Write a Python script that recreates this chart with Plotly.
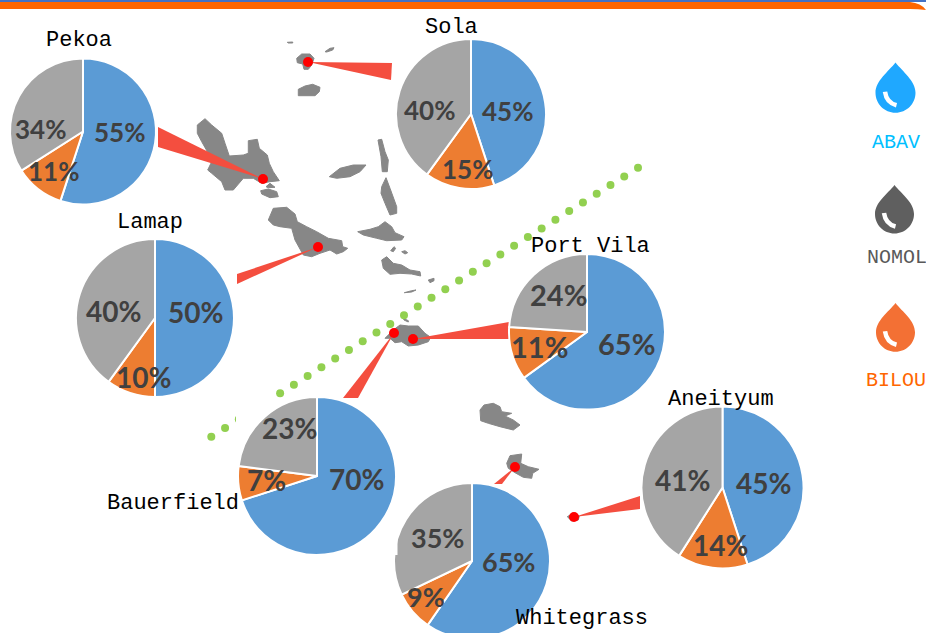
import numpy as np
import plotly.graph_objects as go

# ---------- data ----------
sites = ["Pekoa", "Sola", "Lamap", "Port Vila", "Bauerfield", "Whitegrass", "Aneityum"]
series = ["ABAV", "BILOU", "NOMOL"]
abav = [55, 45, 50, 65, 70, 65, 45]
bilou = [11, 15, 10, 11, 7, 9, 14]
nomol = [34, 40, 40, 24, 23, 35, 41]

# ---------- layout helpers (pixels on the 926-wide page) ----------
W, H_PAGE, H = 926, 633, 660
pie_box = [(83, 131.5, 73), (471, 114, 75), (155, 318, 79), (587, 332, 78),
           (317, 476, 79), (472, 561, 78), (722.5, 487.5, 81)]
pct_pos = [[(119, 132), (53, 171), (40, 129)], [(507, 111), (467, 169), (429, 110)],
           [(195, 312), (143, 377), (113, 311)], [(626, 343), (539, 346), (558, 294)],
           [(356, 479), (266, 480), (289, 428)], [(508, 561), (426, 596), (437, 537)],
           [(763, 483), (720, 545), (682, 480)]]
pct_size = [26, 26, 28, 29, 28, 27, 28]
name_pos = [(79, 40), (451, 27), (150, 222), (590, 246), (173, 503), (582, 618), (721, 399)]
# red dot (tip of leader) and the two base corners of the leader wedge
leaders = [((263, 179), (158, 127), (158, 147)), ((308, 62), (392, 63), (391, 80)),
           ((318, 247), (237, 274), (237, 284)), ((413, 339), (509, 322), (509, 339)),
           ((394, 333), (343, 398), (358, 398)), ((515, 467), (494, 484), (502, 484)),
           ((574, 517), (640, 496), (640, 509))]

COLORS = ["#5B9BD5", "#ED7D31", "#A5A5A5"]
ISLAND = "#878787"
RED = "#FF0000"
WEDGE = "#F44E3F"

Z1 = (180, 30)
Z2 = (340, 290)
islands = [
    (Z1, [(350,85),(365,72),(390,72),(402,85),(395,105),(385,118),(372,118),(368,102),(352,98)]),
    (Z1, [(435,65),(450,55),(462,53),(458,60),(440,66)]),
    (Z1, [(322,37),(338,36),(338,39),(325,39)]),
    (Z1, [(355,178),(375,168),(398,163),(420,172),(418,185),(405,197),(375,197),(355,197)]),
    (Z1, [(52,285),(75,266),(95,285),(125,310),(135,340),(148,378),(190,375),(205,370),(205,332),(232,328),
          (238,355),(262,375),(268,400),(280,425),(298,452),(270,455),(245,460),(220,445),(190,445),(160,480),
          (135,480),(125,455),(95,430),(83,420),(95,395),(85,370),(65,335),(52,310)]),
    (Z1, [(242,482),(265,477),(290,485),(295,500),(270,503),(245,492)]),
    (Z1, [(258,470),(270,460),(285,472),(265,473)]),
    (Z1, [(265,570),(280,535),(320,532),(345,552),(352,575),(380,590),(410,605),(445,625),(485,632),(488,650),
          (503,655),(490,665),(470,672),(450,660),(420,670),(395,680),(370,675),(345,630),(335,595),(300,590),(280,585)]),
    (Z1, [(448,440),(480,415),(520,405),(558,405),(540,425),(510,440),(470,445)]),
    (Z1, [(594,330),(605,328),(615,365),(625,390),(622,425),(607,425),(603,380)]),
    (Z1, [(618,443),(630,475),(650,530),(650,550),(630,555),(615,520),(603,490),(605,470)]),
    (Z1, [(533,605),(570,598),(595,590),(615,575),(635,590),(645,608),(672,620),(665,630),(620,632),(590,625),(550,615)]),
    (Z1, [(632,662),(642,650),(647,655),(640,665)]),
    (Z1, [(665,665),(675,662),(683,668),(675,672)]),
    (Z1, [(605,690),(620,680),(640,700),(665,705),(690,720),(720,725),(722,738),(695,732),(660,730),(630,733),(610,715)]),
    (Z1, [(745,750),(762,745),(762,752),(750,758)]),
    (Z2, [(193,8),(215,2),(228,0),(215,6)]),
    (Z2, [(135,145),(160,120),(180,105),(205,108),(235,108),(255,130),(272,142),(265,155),(235,165),(205,168),(185,155),(165,158),(150,145)]),
    (Z2, [(190,85),(205,92),(205,96),(192,90)]),
    (Z2, [(420,360),(432,345),(460,340),(480,350),(485,365),(515,370),(495,378),(520,390),(540,405),(520,420),(480,410),(445,400),(422,392)]),
    (Z2, [(500,520),(510,497),(545,492),(542,520),(565,530),(597,538),(578,550),(575,565),(550,562),(525,548),(505,535)]),
    (Z2, [(682,680),(695,672),(718,678),(715,690),(695,693)]),
]

def poly(points):
    return "M" + " L".join(f"{x:.1f},{y:.1f}" for x, y in points) + " Z"

shapes = []
# top band
shapes.append(dict(type="rect", x0=0, x1=926, y0=0, y1=2, fillcolor="#4472C4", line_width=0, layer="below"))
shapes.append(dict(type="path", path="M0,2 L910,2 Q921,3 926,10 Q918,9 910,9 L0,9 Z",
                   fillcolor="#FF6600", line_width=0, layer="below"))
for (ox, oy), pts in islands:
    shapes.append(dict(type="path", path=poly([(ox + x / 3, oy + y / 3) for x, y in pts]),
                       fillcolor=ISLAND, line=dict(color=ISLAND, width=1), layer="below"))
for tip, a, b in leaders:
    shapes.append(dict(type="path", path=poly([tip, a, b]), fillcolor=WEDGE, line_width=0, layer="below"))

def drop(cx, top, bottom, r, color):
    cy = bottom - r
    k = 0.552 * r
    body = (f"M{cx},{top} C{cx+r*0.35},{top+r*0.45} {cx+r},{cy-r*0.6} {cx+r},{cy} "
            f"C{cx+r},{cy+k} {cx+k},{bottom} {cx},{bottom} "
            f"C{cx-k},{bottom} {cx-r},{cy+k} {cx-r},{cy} "
            f"C{cx-r},{cy-r*0.6} {cx-r*0.35},{top+r*0.45} {cx},{top} Z")
    shapes.append(dict(type="path", path=body, fillcolor=color, line_width=0, layer="below"))
    hl = f"M{cx-10.5},{cy-1} Q{cx-9},{cy+10} {cx+1},{cy+12.5}"
    shapes.append(dict(type="path", path=hl, line=dict(color="white", width=4.5), layer="below"))

drop(895.5, 62.5, 112.8, 20, "#1FA8FF")
drop(894.5, 185, 233.5, 19.5, "#5F5F5F")
drop(895.5, 303, 351.8, 19.5, "#F37034")

# crops of the picture: bottom of Port Vila, left of Whitegrass, dot cut by the Bauerfield frame
shapes.append(dict(type="rect", x0=510, x1=665, y0=408.5, y1=412, fillcolor="white", line_width=0, layer="above"))
shapes.append(dict(type="rect", x0=390, x1=397.5, y0=530, y1=555, fillcolor="white", line_width=0, layer="above"))
shapes.append(dict(type="rect", x0=236, x1=244, y0=412, y1=426, fillcolor="white", line_width=0, layer="above"))

fig = go.Figure()

# dotted line (two dots are hidden behind the white frame of the Bauerfield pie, one is cut by it)
dot_x = np.linspace(211.3, 638, 32)
dot_y = np.linspace(436.7, 167.7, 32)
keep = ~((dot_x > 242) & (dot_x < 275))
fig.add_trace(go.Scatter(x=dot_x[keep], y=dot_y[keep], mode="markers",
                         marker=dict(size=8, color="#92D050"), hoverinfo="skip", showlegend=False))
# site dots
fig.add_trace(go.Scatter(x=[l[0][0] for l in leaders], y=[l[0][1] for l in leaders], mode="markers",
                         marker=dict(size=10, color=RED), hoverinfo="skip", showlegend=False))

for i, site in enumerate(sites):
    cx, cy, r = pie_box[i]
    fig.add_trace(go.Pie(
        labels=series, values=[abav[i], bilou[i], nomol[i]], name=site,
        sort=False, direction="clockwise", rotation=0, textinfo="none",
        marker=dict(colors=COLORS, line=dict(color="white", width=2)),
        domain=dict(x=[(cx - r) / W, (cx + r) / W], y=[1 - (cy + r) / H, 1 - (cy - r) / H]),
        showlegend=False, hoverinfo="label+value"))

annotations = []
def label(x, y, text, size, color, family, weight=None):
    annotations.append(dict(x=x, y=y, xref="x", yref="y", text=text, showarrow=False,
                            xanchor="center", yanchor="middle",
                            font=dict(size=size, color=color, family=family, weight=weight)))

for i, site in enumerate(sites):
    label(*name_pos[i], site, 22, "#000000", "Liberation Mono")
    for (x, y), v in zip(pct_pos[i], (abav[i], bilou[i], nomol[i])):
        label(x, y, f"{v}%", pct_size[i], "#404040", "Lato", 700)

legend_pos = [(896, 142), (897, 257), (896, 380)]
legend_colors = ["#00BFFF", "#595959", "#FF6600"]
for name, (x, y), c in zip(["ABAV", "NOMOL", "BILOU"], legend_pos, legend_colors):
    label(x, y, name, 20, c, "Liberation Mono")

fig.update_layout(
    width=W, height=H, margin=dict(l=0, r=0, t=0, b=0),
    paper_bgcolor="white", plot_bgcolor="white", showlegend=False,
    xaxis=dict(range=[0, W], visible=False, fixedrange=True),
    yaxis=dict(range=[H, 0], visible=False, fixedrange=True),
    shapes=shapes, annotations=annotations,
)
fig.write_html("out.html", config=dict(displayModeBar=False),
               post_script="document.body.style.margin='0';document.body.style.overflow='hidden';"
                           "document.documentElement.style.overflow='hidden';")
